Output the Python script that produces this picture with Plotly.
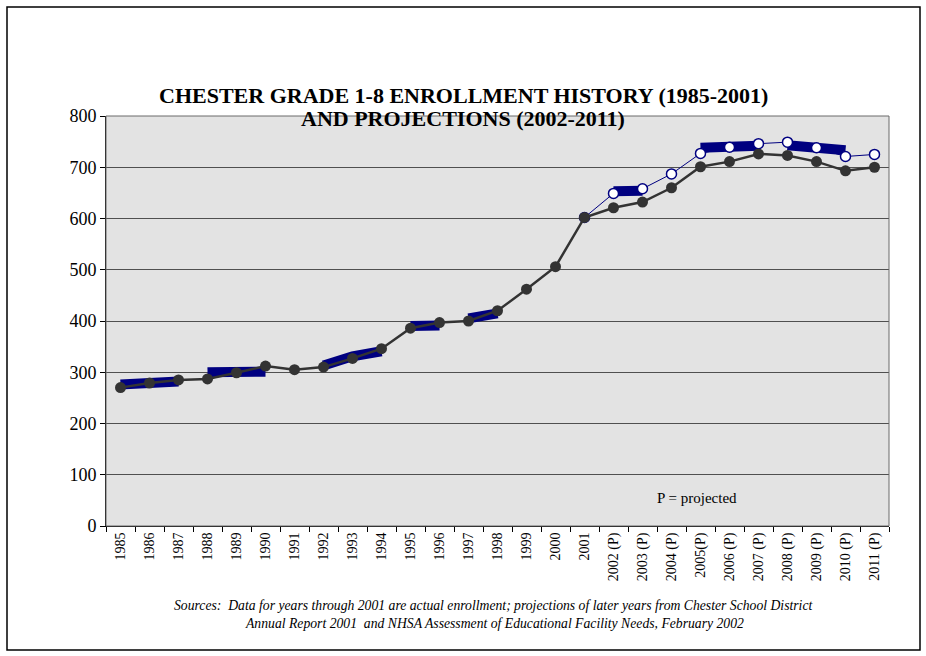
import plotly.graph_objects as go

# Enrollment, grades 1-8
years = ["1985", "1986", "1987", "1988", "1989", "1990", "1991", "1992", "1993",
         "1994", "1995", "1996", "1997", "1998", "1999", "2000", "2001",
         "2002 (P)", "2003 (P)", "2004 (P)", "2005(P)", "2006 (P)", "2007 (P)",
         "2008 (P)", "2009 (P)", "2010 (P)", "2011 (P)"]

enrollment = [270, 279, 285, 287, 299, 312, 305, 310, 327, 346, 386, 397, 400, 420,
              462, 506, 602, 621, 632, 660, 701, 711, 726, 723, 711, 693, 700]

# Alternate projection (district annual report), starting from the 2001 actual
alt_projection = [None] * 16 + [602, 649, 658, 687, 727, 739, 746, 749, 738, 721, 725]

# Heavy navy band segments (None = no band)
band = [276, 279, 282, 300, 300, 301, None, 313, 331, 341, 390, 391, 405, 415,
        None, None, None, 653, 654, None, 738, 741, 742, 743, 738, 733, None]

W, H = 926, 656
L, R, T, B = 106, 37, 116, 130
pw, ph = W - L - R, H - T - B

NAVY = "#000080"
DARK = "#333333"

fig = go.Figure()

# Group band values into separate segments (break at gaps and at segment starts)
breaks = {3, 10, 12, 20, 23}
segments, seg = [], []
for i, v in enumerate(band):
    if v is None or (i in breaks and seg):
        if seg:
            segments.append(seg)
        seg = []
    if v is not None:
        seg.append(i)
if seg:
    segments.append(seg)

for seg in segments:
    fig.add_trace(go.Scatter(
        x=[years[i] for i in seg], y=[band[i] for i in seg],
        mode="lines", line=dict(color=NAVY, width=10),
        hoverinfo="skip", showlegend=False))

fig.add_trace(go.Scatter(
    x=years, y=alt_projection, mode="lines+markers",
    line=dict(color=NAVY, width=1),
    marker=dict(symbol="circle", size=10, color="white", line=dict(color=NAVY, width=1.5)),
    showlegend=False))

fig.add_trace(go.Scatter(
    x=years, y=enrollment, mode="lines+markers",
    line=dict(color=DARK, width=2.5),
    marker=dict(symbol="circle", size=11, color=DARK),
    showlegend=False))


def px_x(x):
    return (x - L) / pw


def px_y(y):
    return (H - B - y) / ph


title_font = dict(size=22, family="Liberation Serif", color="black")

fig.update_layout(
    width=W, height=H,
    margin=dict(l=L, r=R, t=T, b=B),
    paper_bgcolor="white",
    plot_bgcolor="#e3e3e3",
    font=dict(family="Liberation Serif", color="black"),
    xaxis=dict(
        type="category", categoryorder="array", categoryarray=years,
        range=[-0.5, len(years) - 0.5],
        tickson="boundaries", ticks="outside", ticklen=5,
        tickcolor="black", tickangle=-90, tickfont=dict(size=14),
        showgrid=False, showline=True, linecolor="black", linewidth=1,
        mirror=False, zeroline=False),
    yaxis=dict(
        range=[0, 800], dtick=100, ticks="outside", ticklen=5, tickcolor="black",
        tickfont=dict(size=18), showgrid=True, gridcolor="#505050", gridwidth=1,
        showline=True, linecolor="black", linewidth=1, zeroline=False),
    annotations=[
        dict(text="<b>CHESTER GRADE 1-8 ENROLLMENT HISTORY (1985-2001)</b>",
             xref="paper", yref="paper", x=px_x(463), y=px_y(96),
             showarrow=False, xanchor="center", yanchor="middle", font=title_font),
        dict(text="<b>AND PROJECTIONS (2002-2011)</b>",
             xref="paper", yref="paper", x=px_x(463), y=px_y(118),
             showarrow=False, xanchor="center", yanchor="middle", font=title_font),
        dict(text="P = projected", xref="paper", yref="paper",
             x=px_x(697), y=px_y(498), showarrow=False,
             xanchor="center", yanchor="middle", font=dict(size=15)),
        dict(text="<i>Sources:&nbsp;&nbsp;Data for years through 2001 are actual enrollment; projections of later years from Chester School District</i>",
             xref="paper", yref="paper", x=px_x(493), y=px_y(605),
             showarrow=False, xanchor="center", yanchor="middle",
             font=dict(size=13.7)),
        dict(text="<i>Annual Report 2001&nbsp;&nbsp;and NHSA Assessment of Educational Facility Needs, February 2002</i>",
             xref="paper", yref="paper", x=px_x(494), y=px_y(623),
             showarrow=False, xanchor="center", yanchor="middle",
             font=dict(size=13.7)),
    ],
    shapes=[
        # plot area frame (top and right edges)
        dict(type="rect", xref="paper", yref="paper", x0=0, y0=0, x1=1, y1=1,
             line=dict(color="#6a6a6a", width=1), layer="above"),
        # outer chart border
        dict(type="rect", xref="paper", yref="paper",
             x0=px_x(7), x1=px_x(920), y0=px_y(650), y1=px_y(7),
             line=dict(color="black", width=1.5), layer="below"),
    ],
)

fig.write_html("out.html")
